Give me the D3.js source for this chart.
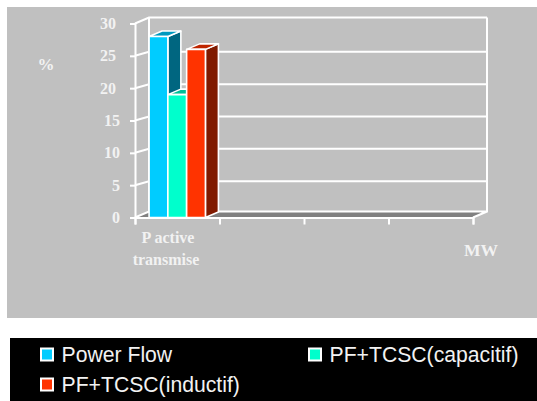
<!DOCTYPE html>
<html>
<head>
<meta charset="utf-8">
<script src="https://cdnjs.cloudflare.com/ajax/libs/d3/7.8.5/d3.min.js"></script>
<style>
html, body { margin: 0; padding: 0; background: #fff; }
svg { display: block; }
</style>
</head>
<body>
<script>
var categories = ["P active transmise", "b", "c", "d"];
var seriesNames = ["Power Flow", "PF+TCSC(capacitif)", "PF+TCSC(inductif)"];
var seriesValues = [28, 19, 26];
var frontColors = ["#00ccff", "#00ffcc", "#ff3300"];
var topColors = ["#0099bf", "#00bf99", "#bf2600"];
var sideColors = ["#006680", "#008066", "#801a00"];
var yTicks = [0, 5, 10, 15, 20, 25, 30];

var w = 537, h = 401, dx = 14, dy = -6, barDx = 13, barDy = -5.5;

var svg = d3.select("body").append("svg")
    .attr("width", w)
    .attr("height", h);

svg.append("rect").attr("x", 7).attr("y", 7).attr("width", 530).attr("height", 311).attr("fill", "#c0c0c0");

var y = d3.scaleLinear().domain([0, 30]).range([217.5, 23.5]);
var x0 = d3.scaleBand().domain(categories).range([135, 473]);
var x1 = d3.scaleBand().domain(seriesNames)
    .range([0, x0.bandwidth() * 2 / 3]);
var pad = x0.bandwidth() / 6;

// floor and back wall
svg.append("polygon")
    .attr("points", [[135, y(0)], [135 + dx, y(0) + dy], [473 + dx, y(0) + dy], [473, y(0)]].join(" "))
    .attr("fill", "#808080");

var wall = svg.append("g").attr("fill", "none").attr("stroke", "#fff").attr("stroke-width", 2);

wall.selectAll(".grid")
    .data(yTicks.slice(1))
    .enter().append("path")
    .attr("d", function (d) {
        var off = d == 30 ? dy : -4;
        return "M135," + y(d) + "L" + (135 + dx) + "," + (y(d) + off) + "H" + (473 + dx);
    });
wall.append("path")
    .attr("d", "M" + (135 + dx) + "," + (y(0) + dy) + "V" + (y(30) + dy));
wall.append("path")
    .attr("d", "M" + (473 + dx) + "," + (y(30) + dy) + "V" + (y(0) + dy) + "L473," + y(0) + "M135," + y(0) + "L" + (135 + dx) + "," + (y(0) + dy) + "H" + (473 + dx));

// axes
var yAxis = d3.axisLeft(y).tickValues(yTicks).tickSize(5).tickPadding(0).tickFormat(d3.format("d"));
var gy = svg.append("g").attr("transform", "translate(135,0)").call(yAxis);
gy.selectAll("text").attr("x", function (d) { return d >= 20 ? -19 : -15; });

var xEdges = categories.map(function (c) { return x0(c); }).concat([473]);
var xLin = d3.scaleLinear().domain([135, 473]).range([135, 473]);
var xAxis = d3.axisBottom(xLin).tickValues(xEdges).tickSize(7).tickFormat("");
var gx = svg.append("g").attr("transform", "translate(0," + y(0) + ")").call(xAxis);

svg.selectAll(".domain, .tick line").attr("stroke", "#fff").attr("stroke-width", 2);
gy.selectAll("text")
    .attr("fill", "#f2f2f2")
    .attr("font-family", "'Liberation Serif', serif")
    .attr("font-weight", "bold")
    .attr("font-size", 16);

// bars
var bars = svg.selectAll(".bar")
    .data(seriesValues)
    .enter().append("g")
    .attr("class", "bar")
    .attr("stroke", "#fff")
    .attr("stroke-width", 1.6)
    .attr("stroke-linejoin", "round");

function bx(i) { return x0(categories[0]) + pad + x1(seriesNames[i]); }

bars.append("polygon")
    .attr("fill", function (d, i) { return sideColors[i]; })
    .attr("points", function (d, i) {
        var r = bx(i) + x1.bandwidth();
        return [[r, y(0)], [r + barDx, y(0) + barDy], [r + barDx, y(d) + barDy], [r, y(d)]].join(" ");
    });
bars.append("polygon")
    .attr("fill", function (d, i) { return topColors[i]; })
    .attr("points", function (d, i) {
        var l = bx(i), r = l + x1.bandwidth();
        return [[l, y(d)], [l + barDx, y(d) + barDy], [r + barDx, y(d) + barDy], [r, y(d)]].join(" ");
    });
bars.append("rect")
    .attr("fill", function (d, i) { return frontColors[i]; })
    .attr("x", function (d, i) { return bx(i); })
    .attr("y", function (d) { return y(d); })
    .attr("width", x1.bandwidth())
    .attr("height", function (d) { return y(0) - y(d); });

// labels
function serifLabel(txt, px, py, size) {
    svg.append("text")
        .attr("x", px).attr("y", py)
        .attr("text-anchor", "middle")
        .attr("fill", "#f2f2f2")
        .attr("font-family", "'Liberation Serif', serif")
        .attr("font-weight", "bold")
        .attr("font-size", size || 16)
        .text(txt);
}
serifLabel("%", 46, 70, 17);
serifLabel("P active", 168, 243);
serifLabel("transmise", 166, 265);
serifLabel("MW", 481, 256, 17.5);

// legend
svg.append("rect").attr("x", 10).attr("y", 338).attr("width", 527).attr("height", 63).attr("fill", "#000");

var legendPos = [[41, 355], [309, 355], [41, 385]];
var legend = svg.selectAll(".legend")
    .data(seriesNames)
    .enter().append("g")
    .attr("class", "legend")
    .attr("transform", function (d, i) { return "translate(" + legendPos[i] + ")"; });

legend.append("rect")
    .attr("x", 0).attr("y", -6.5)
    .attr("width", 12).attr("height", 12)
    .attr("fill", function (d, i) { return frontColors[i]; })
    .attr("stroke", "#fff")
    .attr("stroke-width", 2);
legend.append("text")
    .attr("x", 20.5)
    .attr("y", 7)
    .attr("fill", "#f2f2f2")
    .attr("font-family", "'Liberation Sans', Arial, sans-serif")
    .attr("font-size", 21.2)
    .text(function (d) { return d; });
</script>
</body>
</html>
